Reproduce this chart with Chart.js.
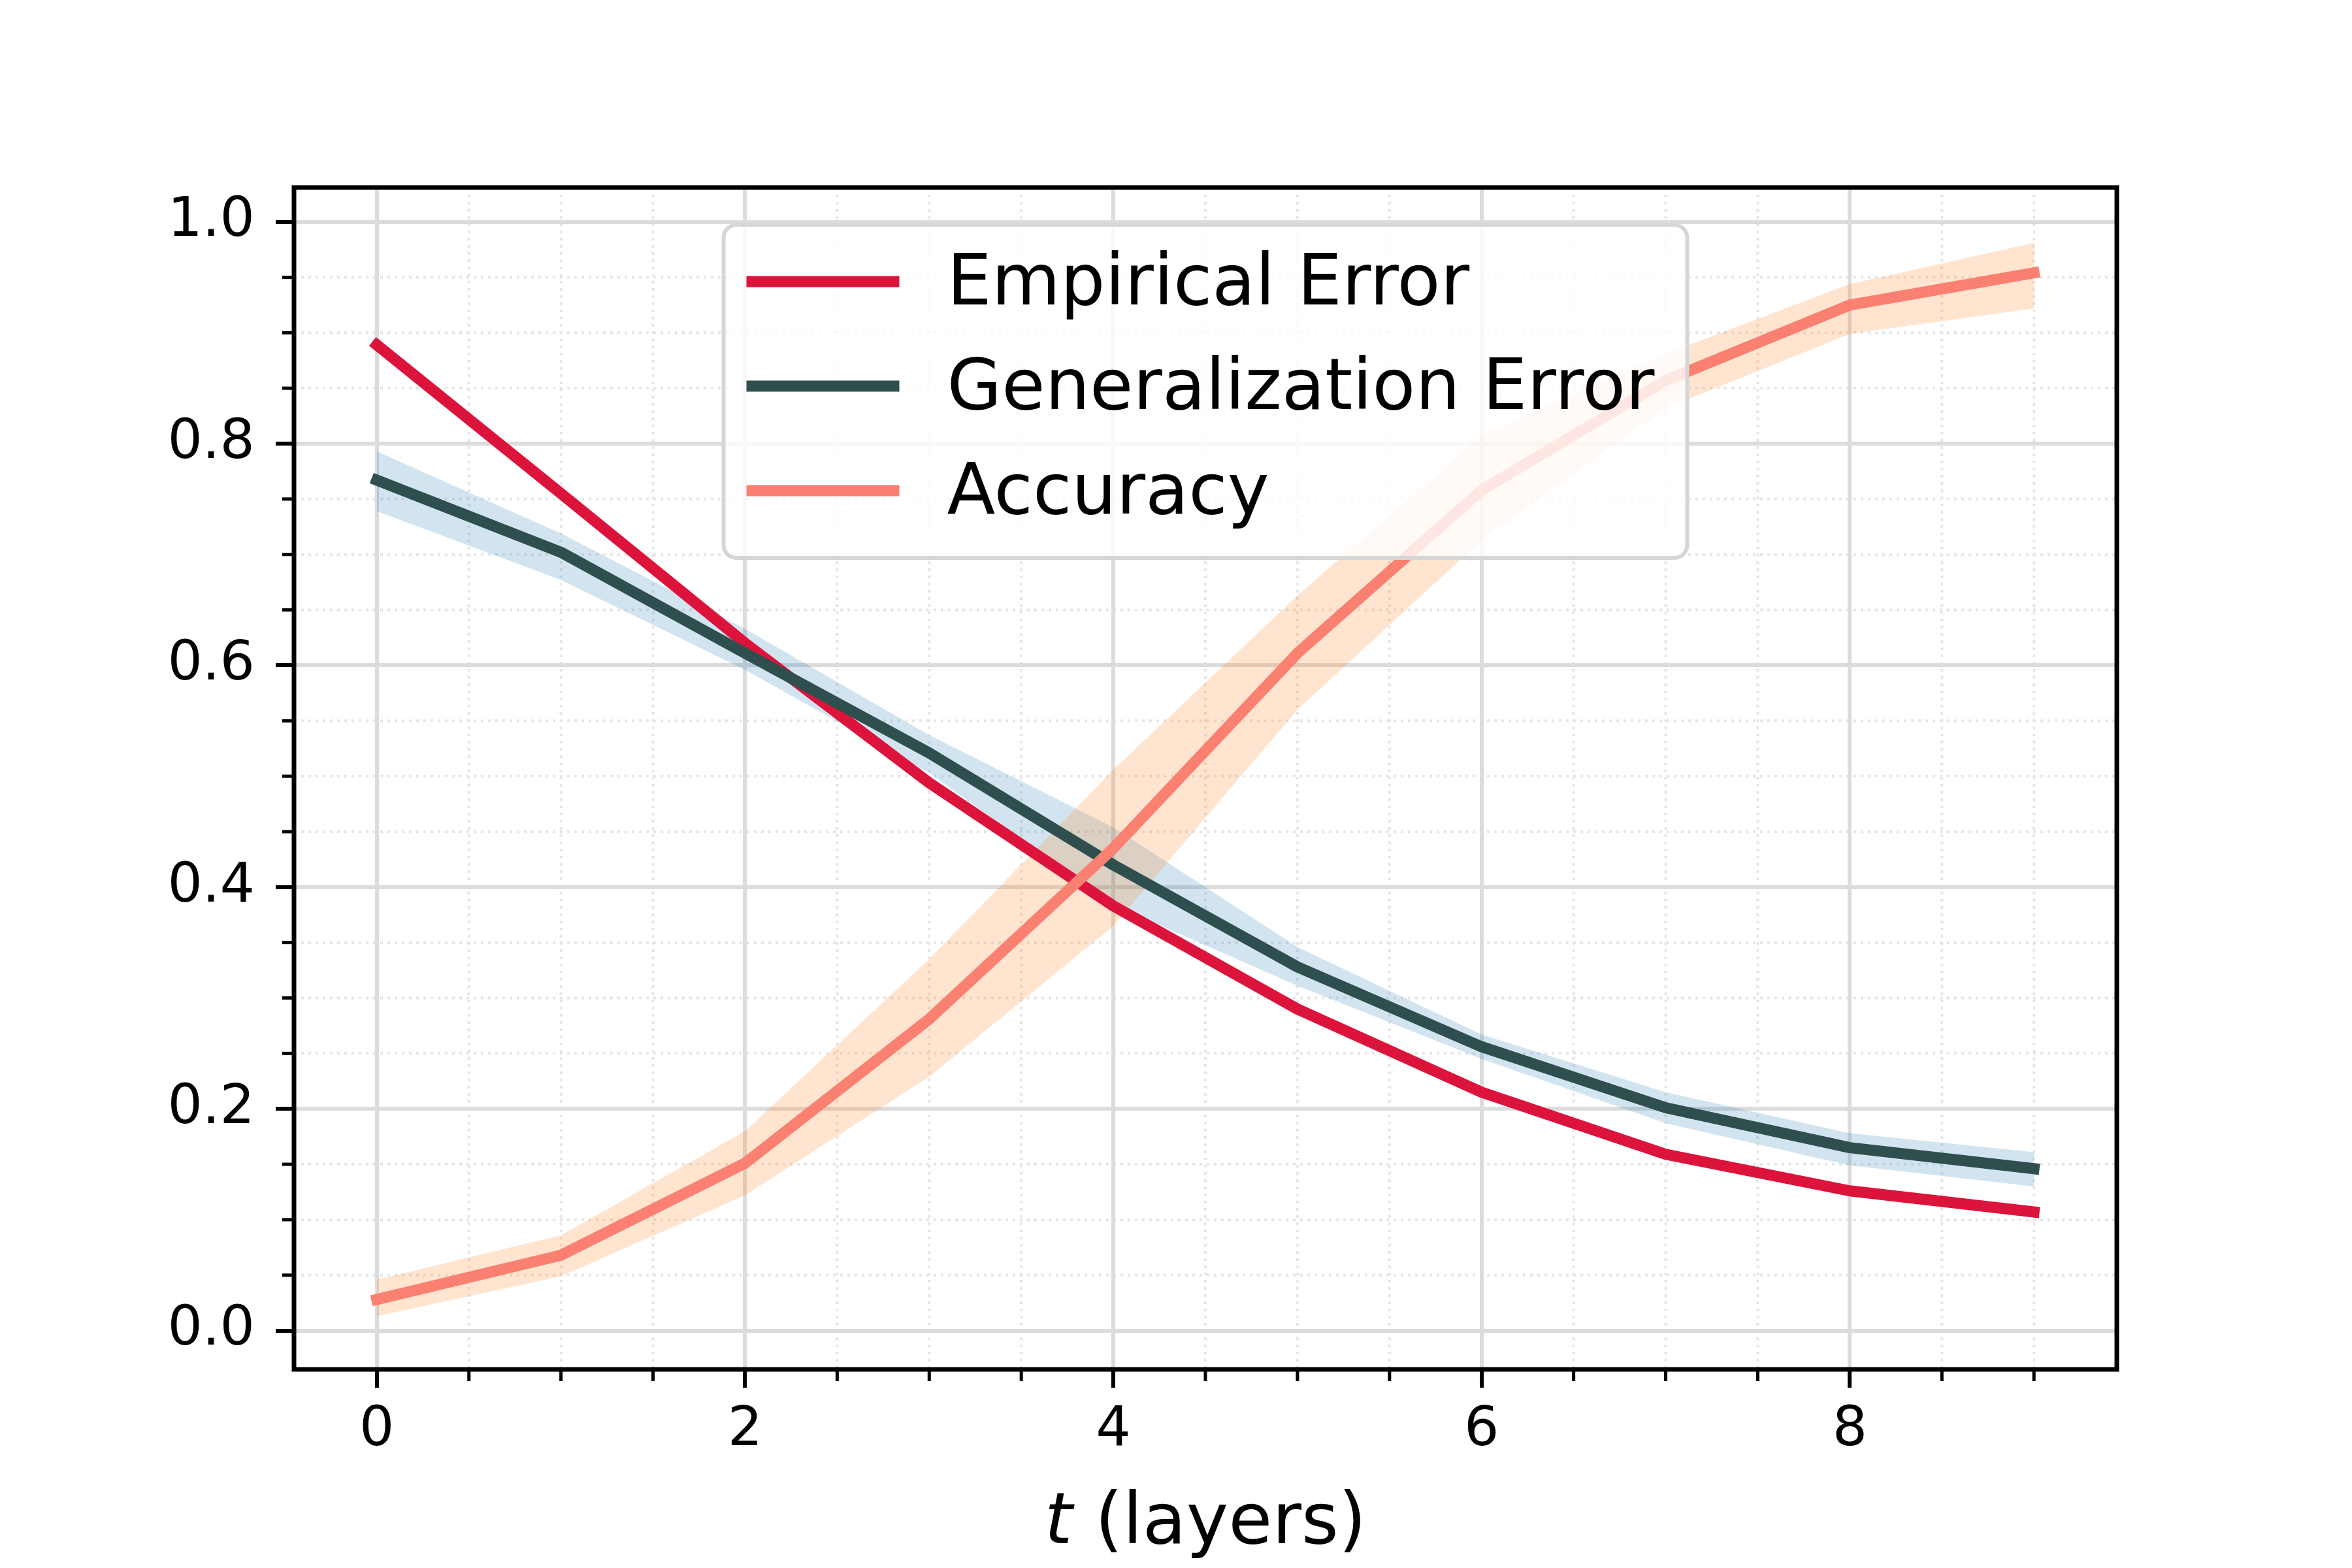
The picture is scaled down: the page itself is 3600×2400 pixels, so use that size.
<!DOCTYPE html>
<html>
<head>
  <title>Error and accuracy per layer</title>
  <script src="https://cdn.jsdelivr.net/npm/chart.js"></script>
  <style>
    body { margin: 0; background: #fff; }
  </style>
</head>
<body>
  <canvas id="myChart" width="3600" height="2400"></canvas>

  <script>
    // values
    const layers = [0, 1, 2, 3, 4, 5, 6, 7, 8, 9];
    const empiricalError = [0.889, 0.755, 0.620, 0.494, 0.383, 0.290, 0.215, 0.159, 0.126, 0.107];
    const generalizationError = [0.767, 0.702, 0.611, 0.521, 0.420, 0.328, 0.256, 0.201, 0.165, 0.146];
    const genUpper = [0.793, 0.719, 0.633, 0.537, 0.454, 0.346, 0.267, 0.215, 0.178, 0.161];
    const genLower = [0.739, 0.677, 0.596, 0.503, 0.384, 0.311, 0.245, 0.187, 0.149, 0.130];
    const accuracy = [0.028, 0.068, 0.151, 0.281, 0.435, 0.611, 0.758, 0.857, 0.925, 0.954];
    const accUpper = [0.046, 0.086, 0.180, 0.335, 0.506, 0.663, 0.808, 0.881, 0.944, 0.981];
    const accLower = [0.013, 0.049, 0.122, 0.229, 0.365, 0.560, 0.713, 0.832, 0.899, 0.922];

    const xTicks = [0, 2, 4, 6, 8];
    const yTicks = [0, 0.2, 0.4, 0.6, 0.8, 1.0];

    const FONT = 'DejaVu Sans';
    Chart.defaults.font.family = FONT;
    Chart.defaults.color = '#000';

    function points(ys) {
      return layers.map((x, i) => ({ x: x, y: ys[i] }));
    }

    function bandSet(ys, fill, color, order) {
      return {
        data: points(ys),
        borderWidth: 0,
        borderColor: 'transparent',
        backgroundColor: color,
        pointRadius: 0,
        fill: fill,
        order: order
      };
    }

    function lineSet(label, ys, color, order) {
      return {
        label: label,
        showInLegend: true,
        data: points(ys),
        borderColor: color,
        borderWidth: 17,
        borderCapStyle: 'square',
        borderJoinStyle: 'round',
        pointRadius: 0,
        fill: false,
        tension: 0,
        order: order
      };
    }

    // minor ticks / dotted minor grid
    const minorGrid = {
      id: 'minorGrid',
      beforeDraw(chart) {
        const { ctx, chartArea: a, scales: { x, y } } = chart;
        const xMinor = [];
        for (let v = 0.5; v <= x.max; v += 0.5) if (v % 2 !== 0) xMinor.push(v);
        const yMinor = [];
        for (let k = 1; k * 0.05 <= y.max; k++) if (k % 4 !== 0) yMinor.push(k * 0.05);

        ctx.save();
        ctx.strokeStyle = '#e6e6e6';
        ctx.lineWidth = 4;
        ctx.setLineDash([4, 7]);
        xMinor.forEach(v => {
          const p = x.getPixelForValue(v);
          ctx.beginPath(); ctx.moveTo(p, a.top); ctx.lineTo(p, a.bottom); ctx.stroke();
        });
        yMinor.forEach(v => {
          const p = y.getPixelForValue(v);
          ctx.beginPath(); ctx.moveTo(a.left, p); ctx.lineTo(a.right, p); ctx.stroke();
        });
        ctx.setLineDash([]);
        ctx.strokeStyle = '#000';
        ctx.lineWidth = 5;
        xMinor.forEach(v => {
          const p = x.getPixelForValue(v);
          ctx.beginPath(); ctx.moveTo(p, a.bottom); ctx.lineTo(p, a.bottom + 18); ctx.stroke();
        });
        yMinor.forEach(v => {
          const p = y.getPixelForValue(v);
          ctx.beginPath(); ctx.moveTo(a.left - 18, p); ctx.lineTo(a.left, p); ctx.stroke();
        });
        ctx.restore();
      }
    };

    // frame, x label and the legend box
    const decorations = {
      id: 'decorations',
      afterDraw(chart) {
        const { ctx, chartArea: a } = chart;
        ctx.save();
        ctx.strokeStyle = '#000';
        ctx.lineWidth = 7;
        ctx.strokeRect(a.left, a.top, a.right - a.left, a.bottom - a.top);

        // x axis label: italic t + (layers)
        const cx = (a.left + a.right) / 2;
        ctx.fillStyle = '#000';
        ctx.textBaseline = 'alphabetic';
        ctx.textAlign = 'left';
        ctx.font = 'italic 109px "' + FONT + '"';
        const tW = ctx.measureText('t').width;
        ctx.font = '109px "' + FONT + '"';
        const rW = ctx.measureText(' (layers)').width;
        const sx = cx - (tW + rW) / 2;
        const by = a.bottom + 266;
        ctx.font = 'italic 109px "' + FONT + '"';
        ctx.fillText('t', sx, by);
        ctx.font = '109px "' + FONT + '"';
        ctx.fillText(' (layers)', sx + tW, by);

        // legend
        const items = chart.data.datasets.filter(d => d.showInLegend);
        ctx.font = '108px "' + FONT + '"';
        const textW = Math.max(...items.map(d => ctx.measureText(d.label).width));
        const w = 35 + 234 + 73 + textW + 50;
        const h = 510;
        const left = cx - w / 2;
        const top = a.top + 57;
        ctx.beginPath();
        ctx.roundRect(left, top, w, h, 20);
        ctx.fillStyle = 'rgba(255,255,255,0.8)';
        ctx.fill();
        ctx.strokeStyle = '#d6d6d6';
        ctx.lineWidth = 6;
        ctx.stroke();

        ctx.textBaseline = 'middle';
        items.forEach((d, i) => {
          const ry = top + 87 + i * 160;
          ctx.strokeStyle = d.borderColor;
          ctx.lineWidth = 17;
          ctx.lineCap = 'butt';
          ctx.beginPath();
          ctx.moveTo(left + 35, ry);
          ctx.lineTo(left + 35 + 234, ry);
          ctx.stroke();
          ctx.fillStyle = '#000';
          ctx.fillText(d.label, left + 35 + 234 + 73, ry + 7);
        });
        ctx.restore();
      }
    };

    const tickFont = { family: FONT, size: 84 };
    const gridOpts = { color: '#dcdcdc', lineWidth: 6, tickLength: 28, tickWidth: 6, tickColor: '#000' };

    const ctx = document.getElementById('myChart').getContext('2d');
    const chart = new Chart(ctx, {
      type: 'line',
      data: {
        datasets: [
          bandSet(genUpper, false, 'transparent', 11),
          bandSet(genLower, '-1', 'rgba(31,119,180,0.2)', 11),
          bandSet(accUpper, false, 'transparent', 10),
          bandSet(accLower, '-1', 'rgba(255,127,14,0.2)', 10),
          lineSet('Empirical Error', empiricalError, '#DC143C', 3),
          lineSet('Generalization Error', generalizationError, '#2F4F4F', 2),
          lineSet('Accuracy', accuracy, '#FA8072', 1)
        ]
      },
      options: {
        responsive: false,
        animation: false,
        devicePixelRatio: 1,
        layout: { padding: { top: 287, right: 360, left: 0, bottom: 0 } },
        plugins: {
          legend: { display: false },
          tooltip: { enabled: false },
          filler: { propagate: false, drawTime: 'beforeDatasetsDraw' }
        },
        scales: {
          x: {
            type: 'linear',
            min: -0.45,
            max: 9.45,
            afterBuildTicks: s => { s.ticks = xTicks.map(v => ({ value: v })); },
            afterFit: s => { s.height = 304; },
            ticks: { font: tickFont, color: '#000', padding: 16, maxRotation: 0, autoSkip: false,
                     callback: v => String(v) },
            grid: gridOpts,
            border: { display: false }
          },
          y: {
            type: 'linear',
            min: -0.035,
            max: 1.031,
            afterBuildTicks: s => { s.ticks = yTicks.map(v => ({ value: v })); },
            afterFit: s => { s.width = 450; },
            ticks: { font: tickFont, color: '#000', padding: 32, autoSkip: false,
                     callback: v => v.toFixed(1) },
            grid: gridOpts,
            border: { display: false }
          }
        }
      },
      plugins: [minorGrid, decorations]
    });
  </script>
</body>
</html>
